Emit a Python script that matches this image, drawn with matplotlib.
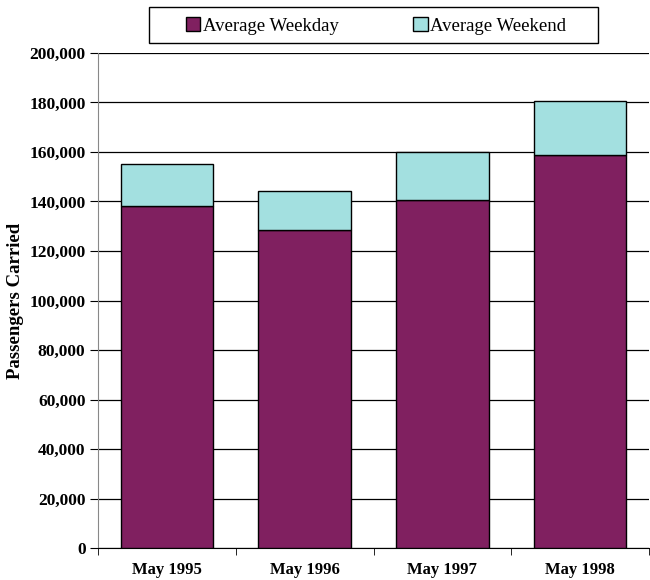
import matplotlib
matplotlib.use("Agg")
import matplotlib.pyplot as plt
import numpy as np
from matplotlib.patches import Patch, Rectangle

categories = ["May 1995", "May 1996", "May 1997", "May 1998"]
weekday = [138000, 128500, 140600, 158800]
totals = [155300, 144200, 159900, 180600]
weekend = [t - w for t, w in zip(totals, weekday)]
yticks = list(range(0, 200001, 20000))

c_weekday = "#802060"
c_weekend = "#A3E0E0"

plt.rcParams['font.family'] = ['Liberation Serif', 'DejaVu Serif']

fig = plt.figure(figsize=(6.5, 5.8), dpi=100)
ax = fig.add_axes([98/650, 1 - 548/580, (649 - 98)/650, (548 - 53)/580])

x = np.arange(len(categories))
w = 0.67
ax.bar(x, weekday, width=w, color=c_weekday, edgecolor="black", linewidth=1.0, zorder=3)
ax.bar(x, weekend, bottom=weekday, width=w, color=c_weekend, edgecolor="black", linewidth=1.0, zorder=3)

ax.set_xlim(-0.5, len(categories) - 0.5)
ax.set_ylim(0, 200000)
ax.set_yticks(yticks)
ax.set_yticklabels([f"{v:,}" for v in yticks], fontsize=12.5, fontweight="bold")
ax.yaxis.grid(True, color="black", linewidth=0.9, zorder=0)
ax.set_axisbelow(True)

ax.set_xticks(x)
ax.set_xticklabels(categories, fontsize=12, fontweight="bold")
ax.set_xticks(np.arange(-0.5, len(categories)), minor=True)
ax.tick_params(axis="x", which="major", length=0, pad=10)
ax.tick_params(axis="x", which="minor", length=5, direction="out", color="black")
ax.tick_params(axis="y", length=6, direction="out", color="black", pad=3)

for s in ["top", "right"]:
    ax.spines[s].set_visible(False)
ax.spines["left"].set_color("#888888")
ax.spines["bottom"].set_color("black")

ax.set_ylabel("Passengers Carried", fontsize=13.5, fontweight="bold", labelpad=4)

# legend box
fig.patches.append(Rectangle((149/650, 1 - 43/580), (598 - 149)/650, 36/580,
                             transform=fig.transFigure, facecolor="white",
                             edgecolor="black", linewidth=1.0))
handles = [Patch(facecolor=c_weekday, edgecolor="black", label="Average Weekday"),
           Patch(facecolor=c_weekend, edgecolor="black", label="Average Weekend")]
leg = fig.legend(handles=handles, loc="center", bbox_to_anchor=(376/650, 1 - 26/580),
                 ncol=2, frameon=False, fontsize=13.5, handlelength=0.75,
                 handleheight=0.75, handletextpad=0.15, columnspacing=4.0)

fig.savefig("out.png", dpi=100)
